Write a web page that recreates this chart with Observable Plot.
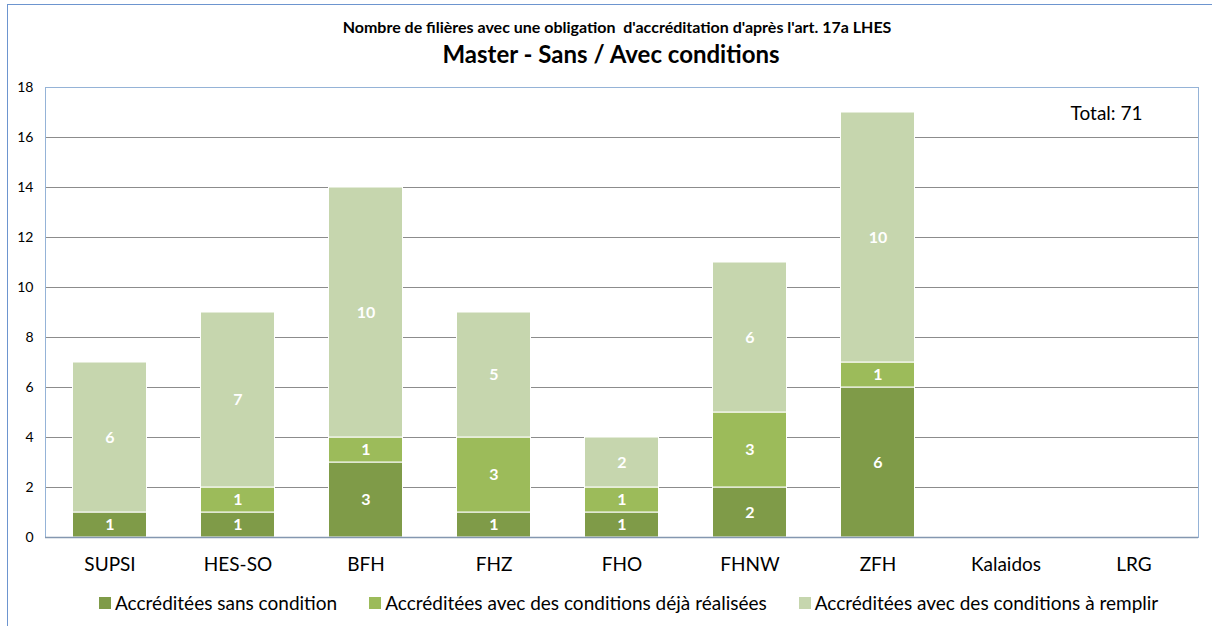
<!DOCTYPE html>
<html>
<head>
<meta charset="utf-8">
<script src="https://cdn.jsdelivr.net/npm/d3@7"></script>
<script src="https://cdn.jsdelivr.net/npm/@observablehq/plot@0.6"></script>
<style>
  html, body { margin: 0; padding: 0; background: #fff; }
  body { width: 1212px; height: 626px; overflow: hidden; position: relative; font-family: Lato, "Open Sans", sans-serif; color: #000; }
  #frame { position: absolute; left: 7px; top: 4px; width: 1230px; height: 660px; border: 1px solid #6D95CF; box-sizing: border-box; }
  #t1 { position: absolute; left: 0; width: 1234px; top: 17px; text-align: center; font-weight: bold; font-size: 16px; line-height: 20px; white-space: pre; }
  #t2 { position: absolute; left: 0; width: 1222px; top: 39px; text-align: center; font-weight: bold; font-size: 24px; line-height: 30px; white-space: pre; }
  #chart { position: absolute; left: 0; top: 70px; }
  #legend { position: absolute; left: 99px; top: 591px; display: flex; font-size: 19px; line-height: 24px; white-space: nowrap; }
  #legend .item { display: flex; align-items: center; margin-right: 32px; }
  #legend .sw { width: 12px; height: 12px; margin-right: 4px; }
</style>
</head>
<body>
<div id="frame"></div>
<div id="t1"></div>
<div id="t2"></div>
<div id="chart"></div>
<div id="legend"></div>
<script>
const titleLine1 = "Nombre de filières avec une obligation  d'accréditation d'après l'art. 17a LHES";
const titleLine2 = "Master - Sans / Avec conditions";
const categories = ["SUPSI", "HES-SO", "BFH", "FHZ", "FHO", "FHNW", "ZFH", "Kalaidos", "LRG"];
const seriesNames = ["Accréditées sans condition", "Accréditées avec des conditions déjà réalisées", "Accréditées avec des conditions à remplir"];
const sansCondition = [1, 1, 3, 1, 1, 2, 6, 0, 0];
const conditionsRealisees = [0, 1, 1, 3, 1, 3, 1, 0, 0];
const conditionsARemplir = [6, 7, 10, 5, 2, 6, 10, 0, 0];
const seriesColors = ["#7F9B48", "#9CBB5A", "#C6D6AE"];
const yTicks = [0, 2, 4, 6, 8, 10, 12, 14, 16, 18];
const totalLabel = ["Total: 71"];

document.getElementById("t1").textContent = titleLine1;
document.getElementById("t2").textContent = titleLine2;

const seriesValues = [sansCondition, conditionsRealisees, conditionsARemplir];
const data = [];
seriesNames.forEach((s, si) => {
  categories.forEach((c, ci) => {
    data.push({ cat: c, series: s, value: seriesValues[si][ci] });
  });
});

const plot = Plot.plot({
  width: 1212,
  height: 510,
  marginLeft: 45,
  marginRight: 14,
  marginTop: 17,
  marginBottom: 43,
  style: { fontFamily: "Lato, 'Open Sans', sans-serif", background: "transparent" },
  x: { domain: categories, paddingInner: 0.43, paddingOuter: 0.215, label: null },
  y: { domain: [0, 18], ticks: yTicks, label: null },
  color: { domain: seriesNames, range: seriesColors },
  marks: [
    Plot.ruleY(yTicks.filter(d => d > 0 && d < 18), { stroke: "#8C8C8C", strokeWidth: 1 }),
    Plot.barY(data, { x: "cat", y: "value", fill: "series", order: seriesNames, stroke: "#fff", strokeWidth: 1, insetLeft: -0.5, insetRight: -0.5 }),
    Plot.text(data, Plot.stackY({ x: "cat", y: "value", z: "series", order: seriesNames, text: d => d.value > 0 ? String(d.value) : "", fill: "white", fontWeight: "bold", fontSize: 16 })),
    Plot.frame({ stroke: "#95B3D7", strokeWidth: 1 }),
    Plot.ruleY([0], { stroke: "#8497B0", strokeWidth: 1.5 }),
    Plot.axisY({ ticks: yTicks, tickSize: 0, tickPadding: 12, fontSize: 14, label: null }),
    Plot.axisX({ tickSize: 0, tickPadding: 20, fontSize: 19, label: null }),
    Plot.text(totalLabel, { text: d => d, frameAnchor: "top-right", textAnchor: "end", lineAnchor: "middle", dx: -56, dy: 26, fontSize: 19, fill: "#000" })
  ]
});
document.getElementById("chart").appendChild(plot);

const legend = document.getElementById("legend");
seriesNames.forEach((s, i) => {
  const item = document.createElement("div");
  item.className = "item";
  const sw = document.createElement("div");
  sw.className = "sw";
  sw.style.background = seriesColors[i];
  const lab = document.createElement("span");
  lab.textContent = s;
  item.appendChild(sw);
  item.appendChild(lab);
  legend.appendChild(item);
});
</script>
</body>
</html>
